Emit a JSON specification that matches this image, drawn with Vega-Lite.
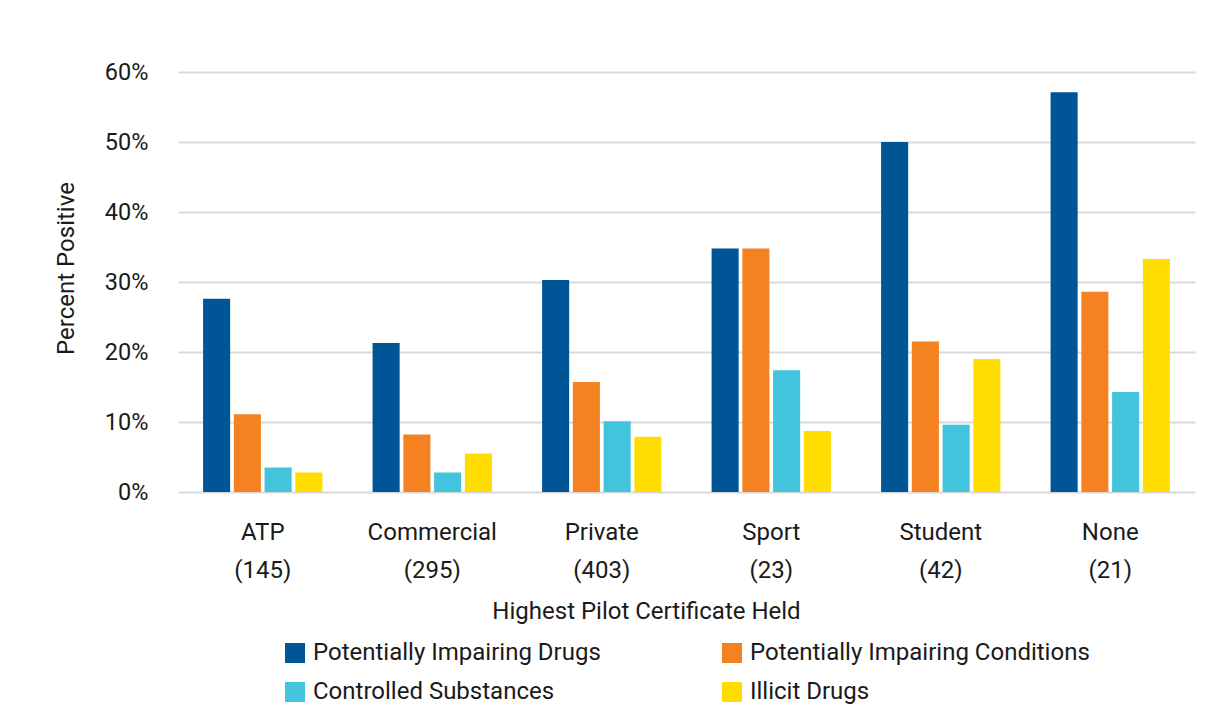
{
  "$schema": "https://vega.github.io/schema/vega-lite/v6.json",
  "autosize": {"type": "none"},
  "padding": {"left": 178, "top": 72, "right": 26, "bottom": 229},
  "width": 1017,
  "height": 420,
  "background": "white",
  "config": {
    "font": "Roboto, sans-serif",
    "view": {"stroke": null}
  },
  "data": {
    "values": [
      {"cert": "ATP (145)", "series": "Potentially Impairing Drugs", "pct": 0.276},
      {"cert": "ATP (145)", "series": "Potentially Impairing Conditions", "pct": 0.111},
      {"cert": "ATP (145)", "series": "Controlled Substances", "pct": 0.035},
      {"cert": "ATP (145)", "series": "Illicit Drugs", "pct": 0.028},
      {"cert": "Commercial (295)", "series": "Potentially Impairing Drugs", "pct": 0.213},
      {"cert": "Commercial (295)", "series": "Potentially Impairing Conditions", "pct": 0.082},
      {"cert": "Commercial (295)", "series": "Controlled Substances", "pct": 0.028},
      {"cert": "Commercial (295)", "series": "Illicit Drugs", "pct": 0.055},
      {"cert": "Private (403)", "series": "Potentially Impairing Drugs", "pct": 0.303},
      {"cert": "Private (403)", "series": "Potentially Impairing Conditions", "pct": 0.157},
      {"cert": "Private (403)", "series": "Controlled Substances", "pct": 0.101},
      {"cert": "Private (403)", "series": "Illicit Drugs", "pct": 0.079},
      {"cert": "Sport (23)", "series": "Potentially Impairing Drugs", "pct": 0.348},
      {"cert": "Sport (23)", "series": "Potentially Impairing Conditions", "pct": 0.348},
      {"cert": "Sport (23)", "series": "Controlled Substances", "pct": 0.174},
      {"cert": "Sport (23)", "series": "Illicit Drugs", "pct": 0.087},
      {"cert": "Student (42)", "series": "Potentially Impairing Drugs", "pct": 0.5},
      {"cert": "Student (42)", "series": "Potentially Impairing Conditions", "pct": 0.215},
      {"cert": "Student (42)", "series": "Controlled Substances", "pct": 0.096},
      {"cert": "Student (42)", "series": "Illicit Drugs", "pct": 0.19},
      {"cert": "None (21)", "series": "Potentially Impairing Drugs", "pct": 0.571},
      {"cert": "None (21)", "series": "Potentially Impairing Conditions", "pct": 0.286},
      {"cert": "None (21)", "series": "Controlled Substances", "pct": 0.143},
      {"cert": "None (21)", "series": "Illicit Drugs", "pct": 0.333}
    ]
  },
  "mark": {"type": "bar"},
  "encoding": {
    "x": {
      "field": "cert",
      "type": "nominal",
      "sort": null,
      "scale": {"paddingInner": 0, "paddingOuter": 0},
      "axis": {
        "title": "Highest Pilot Certificate Held",
        "titleFontSize": 24,
        "titleFontWeight": "normal",
        "titleColor": "#1a1a1a",
        "titleX": 468,
        "titleY": 126,
        "titleAlign": "center",
        "titleBaseline": "alphabetic",
        "labelExpr": "split(datum.label, ' ')",
        "labelAngle": 0,
        "labelFontSize": 24,
        "labelColor": "#1a1a1a",
        "labelLineHeight": 38,
        "labelPadding": 28,
        "labelBaseline": "top",
        "ticks": false,
        "domain": false,
        "grid": false
      }
    },
    "xOffset": {
      "field": "series",
      "type": "nominal",
      "sort": ["Potentially Impairing Drugs", "Potentially Impairing Conditions", "Controlled Substances", "Illicit Drugs"],
      "scale": {"paddingInner": 0.12, "paddingOuter": 0.816}
    },
    "y": {
      "field": "pct",
      "type": "quantitative",
      "scale": {"domain": [0, 0.6], "nice": false},
      "axis": {
        "title": "Percent Positive",
        "titleFontSize": 24,
        "titleFontWeight": "normal",
        "titleColor": "#1a1a1a",
        "titleX": -112,
        "titleY": 196,
        "titleAlign": "center",
        "titleBaseline": "middle",
        "values": [0, 0.1, 0.2, 0.3, 0.4, 0.5, 0.6],
        "format": ".0%",
        "labelFontSize": 23.5,
        "labelColor": "#1a1a1a",
        "labelPadding": 30,
        "ticks": false,
        "domain": false,
        "grid": true,
        "gridColor": "#d9d9d9",
        "gridWidth": 2
      }
    },
    "color": {
      "field": "series",
      "type": "nominal",
      "sort": ["Potentially Impairing Drugs", "Potentially Impairing Conditions", "Controlled Substances", "Illicit Drugs"],
      "scale": {
        "domain": ["Potentially Impairing Drugs", "Potentially Impairing Conditions", "Controlled Substances", "Illicit Drugs"],
        "range": ["#005596", "#f58220", "#42c4dc", "#ffdd00"]
      },
      "legend": {
        "title": null,
        "orient": "none",
        "legendX": 105,
        "legendY": 569,
        "direction": "horizontal",
        "columns": 2,
        "columnPadding": 119,
        "rowPadding": 15,
        "padding": 0,
        "symbolType": "square",
        "symbolSize": 400,
        "symbolStrokeWidth": 0,
        "labelFontSize": 24,
        "labelColor": "#1a1a1a",
        "labelOffset": 6,
        "labelLimit": 500
      }
    }
  }
}
